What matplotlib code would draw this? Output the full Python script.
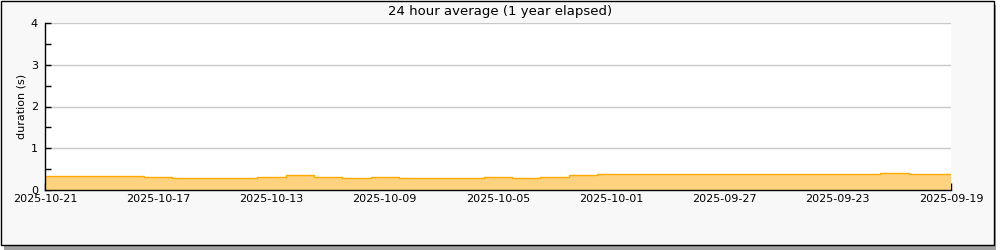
import numpy as np
import pandas as pd
import matplotlib
matplotlib.use('Agg')
from matplotlib import pyplot as plt
from matplotlib.patches import Rectangle

# daily 24h averages, newest (2025-10-21) first, back to 2025-09-19
dates = pd.date_range('2025-10-21', '2025-09-19', freq='-1D')
duration = [0.335, 0.335, 0.335, 0.335, 0.30, 0.28, 0.28, 0.28,
            0.32, 0.37, 0.31, 0.28, 0.30, 0.28, 0.28, 0.28,
            0.32, 0.29, 0.32, 0.36, 0.375, 0.375, 0.375, 0.375,
            0.375, 0.375, 0.375, 0.375, 0.375, 0.375, 0.41, 0.375,
            0.375]

title = '24 hour average (1 year elapsed)'
ylabel = 'duration (s)'

fig = plt.figure(figsize=(10, 2.5), dpi=100)
fig.patch.set_facecolor('white')

# framed panel with a drop shadow
fig.patches.append(Rectangle((4/1000, 0/250), 992/1000, 245/250, transform=fig.transFigure,
                             facecolor='#a0a0a0', edgecolor='none', zorder=0))
fig.patches.append(Rectangle((0.5/1000, 5.5/250), 993/1000, 244/250, transform=fig.transFigure,
                             facecolor='#f8f8f8', edgecolor='black', linewidth=1, zorder=1))

ax = fig.add_axes([45/1000, 60/250, 906/1000, 167/250])
ax.set_facecolor('white')
ax.set_zorder(2)

ax.fill_between(dates, duration, 0, step='mid', color='#ffd280', linewidth=0)
ax.plot(dates, duration, drawstyle='steps-mid', color='#ffaa00', linewidth=1)

ax.set_xlim(dates[0], dates[-1])
ax.set_ylim(0, 4)

ax.set_xticks(dates[::4])
ax.set_xticks(dates[2::4], minor=True)
ax.set_xticklabels([d.strftime('%Y-%m-%d') for d in dates[::4]])
ax.set_yticks([0, 1, 2, 3, 4])
ax.set_yticks(np.arange(0.5, 4, 1.0), minor=True)

ax.tick_params(axis='x', which='both', direction='in', length=5, width=1, labelsize=8, pad=3)
ax.tick_params(axis='y', which='both', direction='in', length=4, width=1, labelsize=8, pad=5)

ax.grid(axis='y', which='major', color='#c8c8c8', linewidth=1)
ax.set_axisbelow(True)

for s in ['top', 'right']:
    ax.spines[s].set_visible(False)
for s in ['left', 'bottom']:
    ax.spines[s].set_linewidth(1)

ax.set_ylabel(ylabel, fontsize=8, labelpad=3)
fig.text(0.5, 1 - 11/250, title, ha='center', va='center', fontsize=9.5)

plt.savefig('out.png', dpi=100)
